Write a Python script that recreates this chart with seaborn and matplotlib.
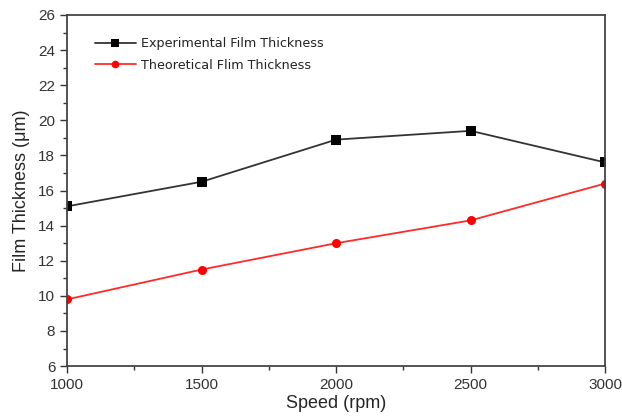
import numpy as np
import pandas as pd
import matplotlib
matplotlib.use("Agg")
import matplotlib.pyplot as plt
import seaborn as sns
from matplotlib.ticker import MultipleLocator

# ---- datos ----
speed = [1000, 1500, 2000, 2500, 3000]
experimental = [15.1, 16.5, 18.9, 19.4, 17.6]
theoretical = [9.8, 11.5, 13.0, 14.3, 16.4]
series_names = ["Experimental Film Thickness", "Theoretical Flim Thickness"]

df = pd.DataFrame({
    "speed": speed * 2,
    "thickness": experimental + theoretical,
    "serie": [series_names[0]] * 5 + [series_names[1]] * 5,
})

sns.set_style("ticks")
plt.rcParams["font.family"] = ["Liberation Sans", "DejaVu Sans"]

fig = plt.figure(figsize=(6.22, 4.16), dpi=100)
ax = fig.add_axes([0.108, 0.12, 0.865, 0.844])

sns.lineplot(data=df, x="speed", y="thickness", hue="serie", style="serie",
             palette=["#333333", "#ff2a2a"], markers=["s", "o"], dashes=False,
             markersize=6.5, markeredgewidth=0, linewidth=1.3, ax=ax)

marker_cols = ["black", "#ff0000"]
for ln, mc in zip(ax.lines[:2], marker_cols):
    ln.set_markerfacecolor(mc)
    ln.set_markeredgecolor(mc)

ax.set_xlim(1000, 3000)
ax.set_ylim(6, 26)
ax.xaxis.set_major_locator(MultipleLocator(500))
ax.xaxis.set_minor_locator(MultipleLocator(250))
ax.yaxis.set_major_locator(MultipleLocator(2))
ax.yaxis.set_minor_locator(MultipleLocator(1))
ax.tick_params(which="major", length=5, width=1, direction="out", labelsize=11, colors="#333333")
ax.tick_params(which="minor", length=3, width=1, direction="out", colors="#333333")
for sp in ax.spines.values():
    sp.set_visible(True)
    sp.set_color("#444444")
    sp.set_linewidth(1.3)

ax.set_xlabel("Speed (rpm)", fontsize=13, labelpad=2)
ax.set_ylabel("Film Thickness (μm)", fontsize=13, labelpad=6)

leg = ax.legend(loc="upper left", bbox_to_anchor=(0.03, 0.97), frameon=False,
                prop={"family": ["DejaVu Sans"], "size": 9.2},
                handlelength=3.2, handletextpad=0.4, labelspacing=0.7)
for h, mc in zip(leg.legend_handles, marker_cols):
    h.set_markerfacecolor(mc)
    h.set_markeredgecolor(mc)
    h.set_markersize(5.5)
for t in leg.get_texts():
    t.set_color("#222222")

fig.savefig("out.png", dpi=100)
